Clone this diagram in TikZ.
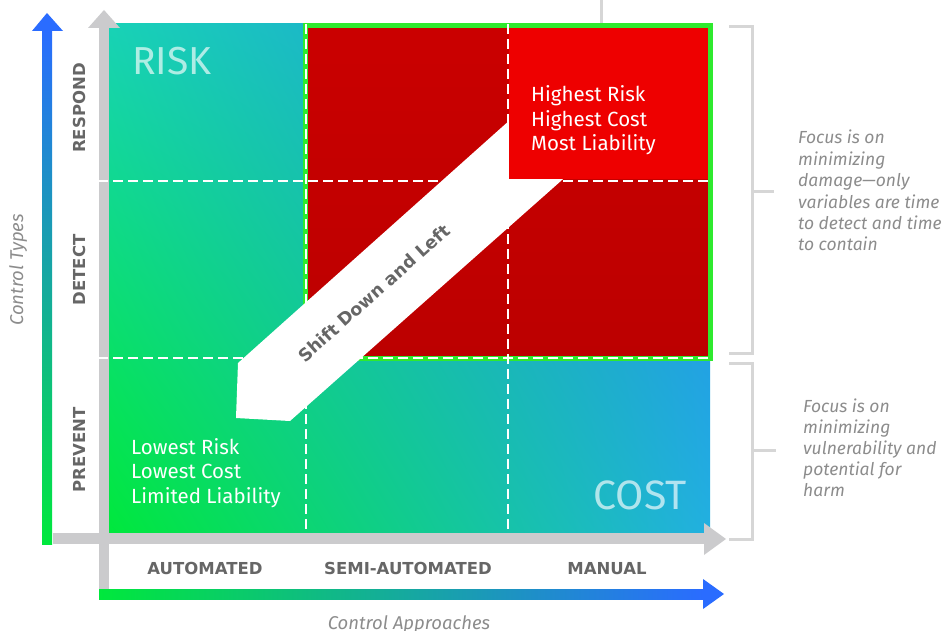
\documentclass[tikz,border=0pt]{standalone}
\usepackage{fontspec}
\setmainfont{Fira Sans}
\newfontfamily\labelfont{DejaVu Sans}
\usetikzlibrary{shadings}
\definecolor{gBL}{HTML}{00E83C}
\definecolor{gTL}{HTML}{18D2B6}
\definecolor{gTR}{HTML}{2386EA}
\definecolor{gBR}{HTML}{22B0E0}
\definecolor{axGreen}{HTML}{00E83C}
\definecolor{axMid}{HTML}{14DCB4}
\definecolor{axBlue}{HTML}{2A6CFF}
\definecolor{axGray}{HTML}{CBCBCD}
\definecolor{brGray}{HTML}{D6D6D6}
\definecolor{redTop}{HTML}{CA0000}
\definecolor{redBot}{HTML}{BC0000}
\definecolor{redBright}{HTML}{EE0000}
\definecolor{greenB}{HTML}{2EEA2E}
\definecolor{lblGray}{HTML}{666666}
\definecolor{itGray}{HTML}{8C8C8C}
\tikzset{
  dashline/.style={draw=white, line width=2, dash pattern=on 10 off 5},
  bigword/.style={text=white, text opacity=0.65, inner sep=0},
  celltext/.style={text=white, font=\fontsize{20.5}{24}\selectfont, inner sep=0, anchor=base west},
  axlabel/.style={text=lblGray, font=\labelfont\bfseries\fontsize{16.5}{20}\selectfont, inner sep=0},
  note/.style={text=itGray, font=\itshape\fontsize{17.5}{20}\selectfont, inner sep=0, anchor=base west},
  axtitle/.style={text=itGray, font=\itshape\fontsize{18.5}{20}\selectfont, inner sep=0, anchor=base},
  bracket/.style={draw=brGray, line width=3}
}
\begin{document}
\begin{tikzpicture}[x=1pt,y=-1pt]
\useasboundingbox (0,0) rectangle (944,631);

% main gradient square
\shade[upper left=gTL, upper right=gTR, lower left=gBL, lower right=gBR] (109,24) rectangle (710,532);

% gray axes
\fill[axGray] (99,28) rectangle (109,589);
\fill[axGray] (88,28) -- (104,10) -- (120,28) -- cycle;
\fill[axGray] (53,533) rectangle (704,544);
\fill[axGray] (704,523) -- (726,539) -- (704,555) -- cycle;

% coloured axes
\shade[bottom color=axGreen, middle color=axMid, top color=axBlue] (42,30) rectangle (52,544);
\fill[axBlue] (32,31) -- (47,13) -- (63,31) -- cycle;
\shade[left color=axGreen, middle color=axMid, right color=axBlue] (99,589) rectangle (703,599);
\fill[axBlue] (703,579) -- (724,594) -- (703,609) -- cycle;

% dark red zone
\shade[top color=redTop, bottom color=redBot] (307,28) rectangle (708,357);
\draw[greenB, line width=5] (305.5,25.5) rectangle (710.5,358);

% dashed grid
\draw[dashline] (306,24) -- (306,532);
\draw[dashline] (508,24) -- (508,532);
\draw[dashline] (98,181) -- (710,181);
\draw[dashline] (98,358) -- (710,358);

% top gray line
\draw[draw=brGray, line width=3] (601,0) -- (601,23);

% shift arrow band
\fill[white] (238,363) -- (236,418) -- (290,421) -- (575,168.5) -- (520,111) -- cycle;
\node[axlabel, font=\labelfont\bfseries\fontsize{17.5}{20}\selectfont, rotate=41.8] (shift) at (374,293) {Shift Down and Left};

% bright red cell
\fill[redBright] (509,28) rectangle (708,179.5);

% big words
\node[bigword, font=\fontsize{39}{42}\selectfont, anchor=base west] (risk) at (132,75) {RISK};
\node[bigword, font=\fontsize{41}{44}\selectfont, anchor=base east] (cost) at (687,509) {COST};

% cell texts
\node[celltext] (hr) at (531,102) {Highest Risk};
\node[celltext] (hc) at (531,126.5) {Highest Cost};
\node[celltext] (ml) at (531,151) {Most Liability};
\node[celltext] (lr) at (131,454) {Lowest Risk};
\node[celltext] (lc) at (131,478.5) {Lowest Cost};
\node[celltext] (ll) at (131,503) {Limited Liability};

% row labels
\node[axlabel, rotate=90] (respond) at (79,108) {RESPOND};
\node[axlabel, rotate=90] (detect) at (79,270) {DETECT};
\node[axlabel, rotate=90] (prevent) at (79,450) {PREVENT};

% column labels
\node[axlabel, anchor=base] (auto) at (205,574) {AUTOMATED};
\node[axlabel, anchor=base] (semi) at (408,574) {SEMI-AUTOMATED};
\node[axlabel, anchor=base] (manual) at (607,574) {MANUAL};

% axis titles
\node[axtitle, rotate=90] (ctypes) at (23,270) {Control Types};
\node[axtitle] (capp) at (409,629) {Control Approaches};

% brackets
\draw[bracket] (729,27) -- (752,27) -- (752,353) -- (729,353);
\draw[bracket] (752,191) -- (774,191);
\draw[bracket] (729,363) -- (752,363) -- (752,539) -- (729,539);
\draw[bracket] (752,450) -- (776,450);

% notes
\node[note] (n1a) at (798,144) {Focus is on};
\node[note] (n1b) at (798,165.3) {minimizing};
\node[note] (n1c) at (798,186.6) {damage—only};
\node[note] (n1d) at (798,208) {variables are time};
\node[note] (n1e) at (798,229.3) {to detect and time};
\node[note] (n1f) at (798,250.6) {to contain};
\node[note] (n2a) at (803,412.7) {Focus is on};
\node[note] (n2b) at (803,433.7) {minimizing};
\node[note] (n2c) at (803,454.7) {vulnerability and};
\node[note] (n2d) at (803,475.7) {potential for};
\node[note] (n2e) at (803,496.7) {harm};
\end{tikzpicture}
\end{document}
